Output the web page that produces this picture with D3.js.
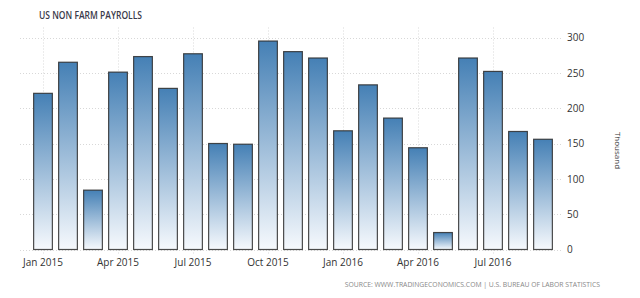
<!DOCTYPE html>
<html lang="en">
<head>
<meta charset="UTF-8">
<title>US Non Farm Payrolls</title>
<script src="https://d3js.org/d3.v7.min.js"></script>
<style>
    body { margin: 0; background: #fff; }
    svg text { font-family: "Open Sans", "DejaVu Sans", sans-serif; }
    .grid line { stroke: #d8d8d8; stroke-dasharray: 1,2; }
    .axis text { font-size: 10px; fill: #333; }
</style>
</head>
<body>
<svg id="chart" width="640" height="298"></svg>
<script>
    // monthly values, thousands
    const months = ["Jan 2015", "Feb 2015", "Mar 2015", "Apr 2015", "May 2015", "Jun 2015",
        "Jul 2015", "Aug 2015", "Sep 2015", "Oct 2015", "Nov 2015", "Dec 2015",
        "Jan 2016", "Feb 2016", "Mar 2016", "Apr 2016", "May 2016", "Jun 2016",
        "Jul 2016", "Aug 2016", "Sep 2016"];
    const payrolls = [221, 265, 84, 251, 273, 228, 277, 150, 149, 295, 280, 271,
        168, 233, 186, 144, 24, 271, 252, 167, 156];
    const xTickLabels = ["Jan 2015", "Apr 2015", "Jul 2015", "Oct 2015", "Jan 2016", "Apr 2016", "Jul 2016"];
    const yTicks = [0, 50, 100, 150, 200, 250, 300];

    const svg = d3.select("#chart");
    const plotLeft = 20, plotRight = 563, plotTop = 37.5, plotBottom = 249.5;

    const x = d3.scaleBand()
        .domain(months)
        .range([30.5, 555.5])
        .paddingInner(0.25)
        .paddingOuter(0.125);

    const y = d3.scaleLinear()
        .domain([0, 300])
        .range([plotBottom, plotTop]);

    // bar gradient, dark at top
    const grad = svg.append("defs").append("linearGradient")
        .attr("id", "barGrad")
        .attr("x1", 0).attr("y1", 0).attr("x2", 0).attr("y2", 1);
    grad.append("stop").attr("offset", "0%").attr("stop-color", "#4580b5");
    grad.append("stop").attr("offset", "100%").attr("stop-color", "#f6f9fd");

    // horizontal grid
    svg.append("g").attr("class", "grid")
        .selectAll("line")
        .data(yTicks)
        .join("line")
        .attr("x1", plotLeft).attr("x2", plotRight)
        .attr("y1", d => Math.round(y(d)) + 0.5)
        .attr("y2", d => Math.round(y(d)) + 0.5);

    // vertical grid at labelled months
    svg.append("g").attr("class", "grid")
        .selectAll("line")
        .data(xTickLabels)
        .join("line")
        .attr("x1", d => Math.round(x(d) + x.bandwidth() / 2) + 0.5)
        .attr("x2", d => Math.round(x(d) + x.bandwidth() / 2) + 0.5)
        .attr("y1", plotTop - 10)
        .attr("y2", plotBottom + 4);

    // bars
    svg.append("g")
        .selectAll("rect")
        .data(payrolls)
        .join("rect")
        .attr("x", (d, i) => x(months[i]))
        .attr("y", d => y(d))
        .attr("width", x.bandwidth())
        .attr("height", d => plotBottom - y(d))
        .attr("fill", "url(#barGrad)")
        .attr("stroke", "#2b2b2b")
        .attr("stroke-opacity", 0.85)
        .attr("stroke-width", 1.2);

    // x axis labels
    const xAxis = d3.axisBottom(x)
        .tickValues(xTickLabels)
        .tickSize(0)
        .tickPadding(9);
    svg.append("g")
        .attr("class", "axis")
        .attr("transform", `translate(0,${plotBottom})`)
        .call(xAxis)
        .call(g => g.select(".domain").remove());

    // y axis labels on the right
    const yAxis = d3.axisRight(y)
        .tickValues(yTicks)
        .tickSize(0)
        .tickPadding(4);
    svg.append("g")
        .attr("class", "axis")
        .attr("transform", `translate(${plotRight},0)`)
        .call(yAxis)
        .call(g => g.select(".domain").remove());

    svg.append("text")
        .attr("transform", `translate(615,${(plotTop + plotBottom) / 2 + 7}) rotate(90)`)
        .attr("text-anchor", "middle")
        .attr("font-size", 8)
        .attr("fill", "#333")
        .text("Thousand");

    svg.append("text")
        .attr("x", 39).attr("y", 19)
        .attr("font-family", "'DejaVu Sans Condensed', 'DejaVu Sans', sans-serif")
        .attr("font-size", 10.5)
        .attr("font-weight", 600)
        .attr("fill", "#3a3a4a")
        .attr("textLength", 103)
        .attr("lengthAdjust", "spacingAndGlyphs")
        .text("US NON FARM PAYROLLS");

    svg.append("text")
        .attr("x", 600).attr("y", 287)
        .attr("text-anchor", "end")
        .attr("font-size", 6.8)
        .attr("fill", "#888")
        .text("SOURCE: WWW.TRADINGECONOMICS.COM | U.S. BUREAU OF LABOR STATISTICS");
</script>
</body>
</html>
